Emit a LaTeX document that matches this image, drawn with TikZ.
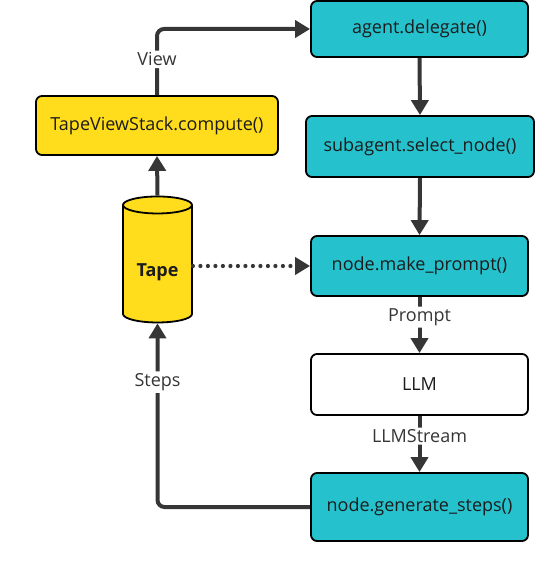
\documentclass[tikz,border=0pt]{standalone}
\usepackage{fontspec}
\setmainfont{Open Sans}
\usetikzlibrary{arrows.meta,shapes.geometric}
\definecolor{agentteal}{HTML}{25C2CD}
\definecolor{tapeyellow}{HTML}{FFDD1C}
\definecolor{linegray}{HTML}{363636}
\definecolor{textdark}{HTML}{1C1C1C}
\begin{document}
\begin{tikzpicture}[x=1pt,y=1pt,
  box/.style={draw=black, line width=1.8pt, rounded corners=6pt, fill=agentteal, text=textdark, font=\fontsize{18}{22}\selectfont},
  flow/.style={draw=linegray, line width=4pt, rounded corners=7pt, -{Triangle[length=15pt,width=17pt]}},
  lbl/.style={fill=white, text=linegray, inner sep=2pt, font=\fontsize{18}{22}\selectfont}]
\useasboundingbox (0,0) rectangle (554,-572);
\node[box, minimum width=217pt, minimum height=56pt] (deleg) at (419.5,-29) {agent.delegate()};
\node[box, fill=tapeyellow, minimum width=242pt, minimum height=59pt] (tvs) at (157,-125.5) {TapeViewStack.compute()};
\node[box, minimum width=228pt, minimum height=61pt] (select) at (420,-146.5) {subagent.select\_node()};
\node[box, minimum width=217pt, minimum height=60pt] (prompt) at (419.5,-266) {node.make\_prompt()};
\node[box, fill=white, minimum width=217pt, minimum height=61pt] (llm) at (419.5,-384.5) {LLM};
\node[box, minimum width=217pt, minimum height=68pt] (gen) at (419.5,-507) {node.generate\_steps()};
\node[cylinder, shape border rotate=90, aspect=0.35, draw=black, line width=1.8pt, fill=tapeyellow,
  minimum width=69pt, minimum height=126pt, font=\fontsize{18}{22}\selectfont\bfseries,
  label={[yshift=-6pt, text=textdark, font=\fontsize{18}{22}\selectfont\bfseries]center:Tape}] (tape) at (157.5,-266) {\phantom{Tape}};
\draw[flow] (tvs.north) |- node[lbl, pos=0.27] {View} (deleg.west);
\draw[flow] (deleg.south) -- (select.north);
\draw[flow] (select.south) -- (prompt.north);
\draw[flow] (prompt.south) -- node[lbl, pos=0.36] {Prompt} (llm.north);
\draw[flow] (llm.south) -- node[lbl, pos=0.36] {LLMStream} (gen.north);
\draw[flow] (gen.west) -| node[lbl, pos=0.84] {Steps} (tape.south);
\draw[flow] (tape.north) -- (tvs.south);
\draw[flow, line width=4.2pt, line cap=round, dash pattern=on 0pt off 7.5pt] (tape.east) -- (prompt.west);
\end{tikzpicture}
\end{document}
